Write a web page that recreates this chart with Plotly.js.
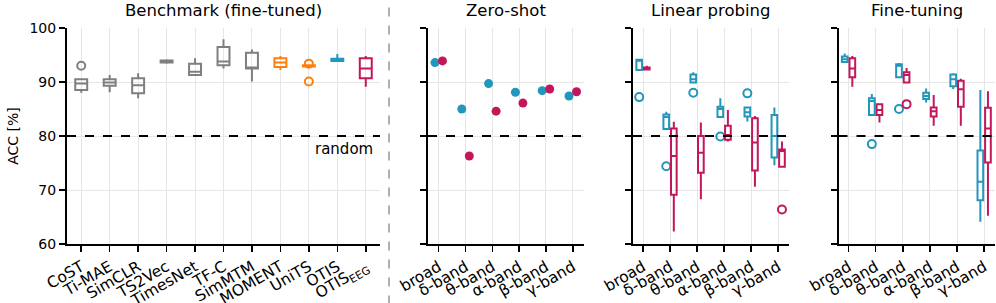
<!DOCTYPE html>
<html>
<head>
<meta charset="utf-8">
<script src="https://cdn.plot.ly/plotly-3.0.1.min.js"></script>
<style>html,body{margin:0;padding:0;background:#fff;}#chart{width:996px;height:303px;}</style>
</head>
<body>
<div id="chart"></div>
<script>
// ---------- DATA ----------
const methods = ['CoST','Ti-MAE','SimCLR','TS2Vec','TimesNet','TF-C','SimMTM','MOMENT','UniTS','OTIS','OTIS<sub>EEG</sub>'];
const methodGroup = ['base','base','base','base','base','base','base','found','found','otis','otisEEG'];
const benchQ1     = [88.5, 89.3, 87.9, 93.6, 91.3, 93.1, 92.5, 92.8, 92.85, 93.9, 90.7];
const benchMedian = [89.7, 89.9, 89.4, 93.8, 91.9, 93.8, 92.7, 93.6, 93.0, 94.1, 92.5];
const benchQ3     = [90.5, 90.5, 90.7, 94.0, 93.4, 96.5, 95.4, 94.4, 93.1, 94.3, 94.4];
const benchLow    = [88.0, 88.1, 87.0, 93.4, 91.1, 92.5, 90.1, 92.2, 92.85, 93.8, 89.1];
const benchHigh   = [90.5, 91.3, 91.6, 94.2, 94.4, 97.9, 96.0, 94.8, 93.1, 95.2, 94.8];
const benchOutliers = [[93.0], [], [], [], [], [], [], [], [93.4, 90.1], [], []];

const bands = ['broad','δ-band','θ-band','α-band','β-band','γ-band'];

// Zero-shot
const zsOtis    = [93.6, 85.0, 89.7, 88.1, 88.4, 87.4];
const zsOtisEEG = [93.9, 76.3, 84.6, 86.1, 88.7, 88.2];

// Linear probing
const lpOtisQ1     = [92.2, 81.3, 89.9, 83.5, 83.6, 76.0];
const lpOtisMedian = [94.0, 83.5, 90.5, 85.0, 84.4, 80.0];
const lpOtisQ3     = [94.1, 84.0, 91.4, 85.4, 85.3, 83.9];
const lpOtisLow    = [92.1, 81.1, 89.8, 83.5, 82.7, 74.6];
const lpOtisHigh   = [94.1, 84.5, 91.8, 87.0, 85.3, 85.3];
const lpOtisOut    = [[87.2], [74.4], [88.0], [79.9], [87.9], []];
const lpEegQ1      = [92.3, 69.1, 73.2, 79.3, 73.6, 74.3];
const lpEegMedian  = [92.5, 76.3, 76.9, 80.2, 78.8, 77.2];
const lpEegQ3      = [92.7, 81.4, 80.0, 81.9, 83.3, 77.5];
const lpEegLow     = [92.3, 62.3, 68.3, 79.0, 70.6, 74.3];
const lpEegHigh    = [93.0, 82.65, 82.5, 84.8, 83.7, 79.0];
const lpEegOut     = [[], [], [], [], [], [66.4]];

// Fine-tuning
const ftOtisQ1     = [93.7, 83.9, 90.9, 86.85, 89.2, 68.1];
const ftOtisMedian = [94.2, 86.5, 93.0, 87.4, 90.5, 71.55];
const ftOtisQ3     = [94.7, 87.0, 93.3, 88.0, 91.4, 77.3];
const ftOtisLow    = [93.6, 83.9, 90.9, 86.2, 88.7, 64.1];
const ftOtisHigh   = [95.3, 87.8, 93.5, 88.8, 91.6, 88.5];
const ftOtisOut    = [[], [78.5], [85.0], [], [], []];
const ftEegQ1      = [90.9, 83.9, 89.9, 83.6, 85.4, 75.1];
const ftEegMedian  = [92.5, 84.8, 91.3, 84.6, 88.65, 81.4];
const ftEegQ3      = [94.4, 85.9, 91.8, 85.3, 90.25, 85.25];
const ftEegLow     = [89.1, 82.5, 89.9, 81.9, 81.9, 65.25];
const ftEegHigh    = [94.8, 85.9, 92.6, 87.6, 90.6, 88.3];
const ftEegOut     = [[], [], [85.9], [], [], []];

const randomLevel = 80;
const yTicks = [60, 70, 80, 90, 100];

// ---------- STYLE ----------
const colors = {base:'#7f7f7f', found:'#ff7f0e', otis:'#2198bb', otisEEG:'#c2185b'};
const FONT = 'DejaVu Sans';

function boxTrace(cats, q1, med, q3, lo, hi, outs, color, xa, ya, og, ag) {
  // sample rows: the median (inside the box, never drawn) plus the outliers
  const rows = outs.map((o, i) => [med[i]].concat(o));
  return {
    type:'box', orientation:'v', x:cats, q1:q1, median:med, q3:q3,
    lowerfence:lo, upperfence:hi, y:rows,
    boxpoints:'outliers', pointpos:0, jitter:0, whiskerwidth:0,
    line:{color:color, width:2}, fillcolor:'rgba(255,255,255,0)',
    marker:{symbol:'circle-open', size:8, color:color, line:{width:2, color:color}},
    xaxis:xa, yaxis:ya, offsetgroup:og, alignmentgroup:ag,
    showlegend:false, hoverinfo:'skip'
  };
}

const traces = [];
// Benchmark: one trace per colour group
['base','found','otis','otisEEG'].forEach(g => {
  const idx = methods.map((m,i)=>i).filter(i => methodGroup[i] === g);
  const pick = arr => idx.map(i => arr[i]);
  traces.push(boxTrace(pick(methods), pick(benchQ1), pick(benchMedian), pick(benchQ3),
    pick(benchLow), pick(benchHigh), pick(benchOutliers), colors[g], 'x', 'y', 'bench', 'a1'));
});

// Zero-shot
traces.push({type:'scatter', mode:'markers', x:bands, y:zsOtis, xaxis:'x2', yaxis:'y2',
  marker:{color:colors.otis, size:9}, offsetgroup:'o', alignmentgroup:'z', showlegend:false, hoverinfo:'skip'});
traces.push({type:'scatter', mode:'markers', x:bands, y:zsOtisEEG, xaxis:'x2', yaxis:'y2',
  marker:{color:colors.otisEEG, size:9}, offsetgroup:'e', alignmentgroup:'z', showlegend:false, hoverinfo:'skip'});

// Linear probing
traces.push(boxTrace(bands, lpOtisQ1, lpOtisMedian, lpOtisQ3, lpOtisLow, lpOtisHigh, lpOtisOut, colors.otis, 'x3', 'y3', 'o', 'a3'));
traces.push(boxTrace(bands, lpEegQ1, lpEegMedian, lpEegQ3, lpEegLow, lpEegHigh, lpEegOut, colors.otisEEG, 'x3', 'y3', 'e', 'a3'));
// Fine-tuning
traces.push(boxTrace(bands, ftOtisQ1, ftOtisMedian, ftOtisQ3, ftOtisLow, ftOtisHigh, ftOtisOut, colors.otis, 'x4', 'y4', 'o', 'a4'));
traces.push(boxTrace(bands, ftEegQ1, ftEegMedian, ftEegQ3, ftEegLow, ftEegHigh, ftEegOut, colors.otisEEG, 'x4', 'y4', 'e', 'a4'));

const W = 996;
const domains = [[67/W, 380/W], [428/W, 583.5/W], [633/W, 789/W], [838.5/W, 995/W]];
const titles = ['Benchmark (fine-tuned)', 'Zero-shot', 'Linear probing', 'Fine-tuning'];

function xAxis(i, cats, range) {
  return {
    domain: domains[i], anchor: i === 0 ? 'y' : 'y' + (i+1),
    type:'category', categoryorder:'array', categoryarray:cats, range:range,
    showline:true, linecolor:'#000', linewidth:2, mirror:false,
    ticks:'outside', ticklen:6, tickwidth:1.5, tickcolor:'#000',
    tickangle:-30, tickfont:{family:FONT, size:15.5, color:'#000'},
    showgrid:true, gridcolor:'#e6e6e6', gridwidth:1, zeroline:false, automargin:false
  };
}
function yAxis(i) {
  const ax = {
    domain:[0,1], anchor: i === 0 ? 'x' : 'x' + (i+1), range:[60,100],
    tickmode:'array', tickvals:yTicks, ticktext:yTicks.map(String),
    showline:true, linecolor:'#000', linewidth:2,
    ticks:'outside', ticklen:6, tickwidth:1.5, tickcolor:'#000',
    showticklabels: i === 0, tickfont:{family:FONT, size:14, color:'#000'},
    showgrid:true, gridcolor:'#e6e6e6', gridwidth:1, zeroline:false, automargin:false
  };
  if (i === 0) ax.title = {text:'ACC [%]', font:{family:FONT, size:14, color:'#000'}, standoff:8};
  return ax;
}

const layout = {
  width:996, height:303, margin:{l:0, r:0, t:28, b:59},
  paper_bgcolor:'#fff', plot_bgcolor:'#fff',
  font:{family:FONT, color:'#000'},
  boxmode:'group', boxgap:0.44, boxgroupgap:0.25,
  scattermode:'group', scattergap:0.44,
  xaxis: xAxis(0, methods, [-0.5, 10.5]),
  xaxis2: xAxis(1, bands, [-0.4, 5.4]),
  xaxis3: xAxis(2, bands, [-0.37, 5.4]),
  xaxis4: xAxis(3, bands, [-0.37, 5.4]),
  yaxis: yAxis(0), yaxis2: yAxis(1), yaxis3: yAxis(2), yaxis4: yAxis(3),
  shapes: [],
  annotations: []
};
['x','x2','x3','x4'].forEach((xa, i) => {
  const ya = 'y' + (i === 0 ? '' : (i+1));
  layout.shapes.push({type:'line', xref: xa + ' domain', x0:0, x1:1, yref: ya, y0:randomLevel, y1:randomLevel,
    line:{color:'#000', width:2, dash:'dash'}, layer:'above'});
  layout.annotations.push({xref: xa + ' domain', x:0.5, yref: ya + ' domain', y:1, yanchor:'bottom', yshift:6,
    text: titles[i], showarrow:false, font:{family:FONT, size:16.5, color:'#000'}});
});
layout.annotations.push({xref:'x domain', x:0.985, xanchor:'right', yref:'y', y:randomLevel, yanchor:'top', yshift:-2,
  text:'random', showarrow:false, font:{family:FONT, size:15, color:'#000'}});
layout.shapes.push({type:'line', xref:'paper', x0:389/W, x1:389/W, yref:'paper', y0:-0.28, y1:1.14,
  line:{color:'#b0b0b0', width:2, dash:'dash'}});

Plotly.newPlot('chart', traces, layout, {staticPlot:true, displayModeBar:false});
</script>
</body>
</html>
